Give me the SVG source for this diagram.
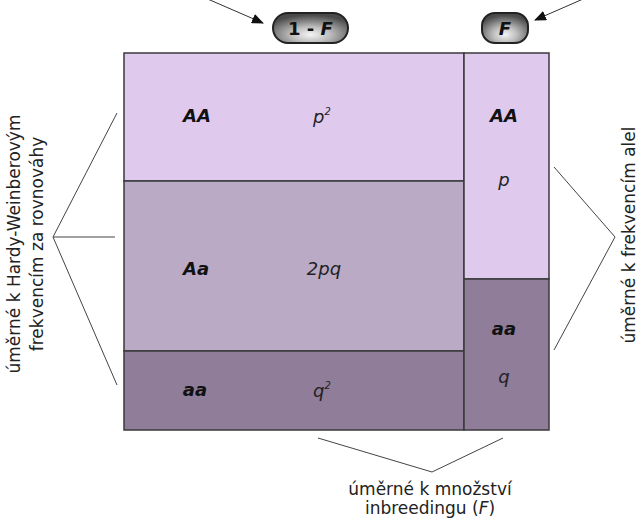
<svg xmlns="http://www.w3.org/2000/svg" width="638" height="519" viewBox="0 0 638 519">
<style>
.body{font-family:"DejaVu Sans",Verdana,sans-serif;font-size:17px;fill:#222}
.geno{font-family:"DejaVu Sans",Verdana,sans-serif;font-size:18px;font-weight:bold;font-style:italic;fill:#111;text-anchor:middle}
.freq{font-family:"DejaVu Sans",Verdana,sans-serif;font-size:18px;font-style:italic;fill:#222}
.cell{stroke:#3a3a3a;stroke-width:1.5}
.br{fill:none;stroke:#444;stroke-width:1}
.pilltxt{font-family:"DejaVu Sans",Verdana,sans-serif;font-size:18px;font-weight:bold;fill:#111;text-anchor:middle}
</style>
<defs>
<radialGradient id="metal" cx="50%" cy="72%" r="65%">
<stop offset="0" stop-color="#f4f4f4"/>
<stop offset="0.4" stop-color="#bdbdbd"/>
<stop offset="1" stop-color="#4a4a4a"/>
</radialGradient>
<marker id="ah" viewBox="0 0 12 10" refX="11" refY="5" markerWidth="12" markerHeight="10" markerUnits="userSpaceOnUse" orient="auto">
<path d="M0,0 L12,5 L0,10 Z" fill="#111"/>
</marker>
</defs>

<g id="cell-AA-left"><rect class="cell" x="124" y="53" width="340" height="128" fill="#dfcaee"/>
<text class="geno" x="197" y="122">AA</text>
<text class="freq" x="313" y="123">p<tspan font-size="10" dy="-8">2</tspan></text></g>
<g id="cell-Aa-left"><rect class="cell" x="124" y="181" width="340" height="170" fill="#baaac6"/>
<text class="geno" x="196" y="275">Aa</text>
<text class="freq" x="324" y="275" text-anchor="middle">2pq</text></g>
<g id="cell-aa-left"><rect class="cell" x="124" y="351" width="340" height="79" fill="#8f7d99"/>
<text class="geno" x="195" y="396">aa</text>
<text class="freq" x="313" y="397">q<tspan font-size="10" dy="-8">2</tspan></text></g>
<g id="cell-AA-right"><rect class="cell" x="464" y="53" width="85" height="226" fill="#dfcaee"/>
<text class="geno" x="504" y="122">AA</text>
<text class="freq" x="504" y="186" text-anchor="middle">p</text></g>
<g id="cell-aa-right"><rect class="cell" x="464" y="279" width="85" height="151" fill="#8f7d99"/>
<text class="geno" x="504" y="335">aa</text>
<text class="freq" x="504" y="383" text-anchor="middle">q</text></g>

<g id="pill-1-F"><rect x="273" y="13" width="75" height="30" rx="15" fill="url(#metal)" stroke="#222" stroke-width="2"/>
<text class="pilltxt" x="310.5" y="34.5">1 - <tspan font-style="italic">F</tspan></text></g>
<g id="pill-F"><rect x="482" y="13" width="46" height="30" rx="13" fill="url(#metal)" stroke="#222" stroke-width="2"/>
<text class="pilltxt" x="505" y="34.5" font-style="italic">F</text></g>

<g id="connectors">
<line x1="203" y1="-3" x2="263" y2="23" stroke="#333" stroke-width="1" marker-end="url(#ah)"/>
<line x1="590" y1="-4" x2="535" y2="20" stroke="#333" stroke-width="1" marker-end="url(#ah)"/>
<polyline class="br" points="117,113 53,237 117,385"/>
<line class="br" x1="53" y1="237" x2="115" y2="237"/>
<polyline class="br" points="554,167 615,237 554,350"/>
<polyline class="br" points="318,438 432,472 503,438"/>
</g>

<g id="label-hw"><text class="body" text-anchor="middle" transform="translate(20,244) rotate(-90)">úměrné k Hardy-Weinberovým</text>
<text class="body" text-anchor="middle" transform="translate(43,244) rotate(-90)">frekvencím za rovnováhy</text></g>
<g id="label-alel"><text class="body" text-anchor="middle" transform="translate(635,235) rotate(-90)">úměrné k frekvencím alel</text></g>
<g id="label-inbreeding"><text class="body" text-anchor="middle" x="430" y="495">úměrné k množství</text>
<text class="body" text-anchor="middle" x="430" y="514">inbreedingu (<tspan font-style="italic">F</tspan>)</text></g>
</svg>
